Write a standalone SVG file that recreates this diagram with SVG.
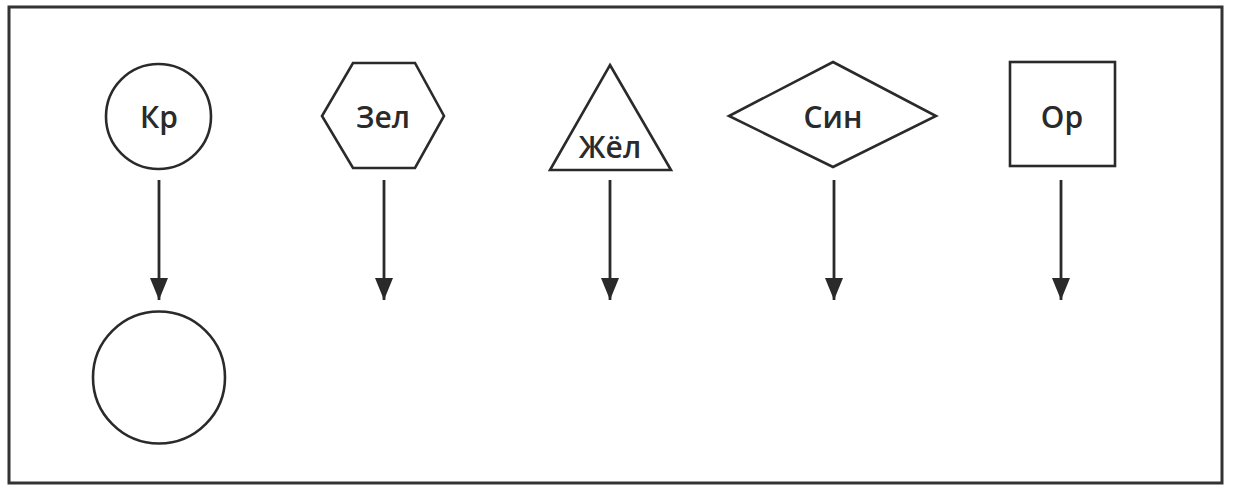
<svg xmlns="http://www.w3.org/2000/svg" width="1234" height="486" viewBox="0 0 1234 486">
<defs>
<style>
.s{fill:#fff;stroke:#2a2a2a;stroke-width:2.6}
.t{font-family:"Open Sans","Liberation Sans",sans-serif;font-size:30px;font-weight:600;fill:#2a2a2a;text-anchor:middle}
.c{stroke:#2a2a2a;stroke-width:2.8;fill:none}
</style>
<marker id="ah" viewBox="0 0 22 18" refX="22" refY="9" markerWidth="22" markerHeight="18" markerUnits="userSpaceOnUse" orient="auto">
<path d="M0,0 L22,9 L0,18 Z" fill="#2a2a2a"/>
</marker>
</defs>
<rect width="1234" height="486" fill="#fff"/>
<rect x="9" y="7" width="1213" height="476" fill="none" stroke="#333" stroke-width="3"/>
<g id="n-kr"><circle class="s" cx="158.5" cy="116.5" r="52.5"/><text class="t" x="159" y="128">Кр</text></g>
<g id="n-zel"><polygon class="s" points="353,63 415,63 444,116 415,168 353,168 322,116"/><text class="t" x="383" y="128">Зел</text></g>
<g id="n-zhel"><polygon class="s" points="610,65 671,170 550,170"/><text class="t" x="610" y="158">Жёл</text></g>
<g id="n-sin"><polygon class="s" points="833,62 936,116 833,167 729,116"/><text class="t" x="833" y="128">Син</text></g>
<g id="n-or"><rect class="s" x="1010" y="62" width="105" height="104"/><text class="t" x="1062" y="128">Ор</text></g>
<g id="n-empty"><circle class="s" cx="159" cy="377.5" r="66"/></g>
<g id="connectors">
<line class="c" x1="159" y1="180" x2="159" y2="300" marker-end="url(#ah)"/>
<line class="c" x1="384" y1="180" x2="384" y2="300" marker-end="url(#ah)"/>
<line class="c" x1="610" y1="180" x2="610" y2="300" marker-end="url(#ah)"/>
<line class="c" x1="834" y1="180" x2="834" y2="300" marker-end="url(#ah)"/>
<line class="c" x1="1061" y1="180" x2="1061" y2="300" marker-end="url(#ah)"/>
</g>
</svg>
